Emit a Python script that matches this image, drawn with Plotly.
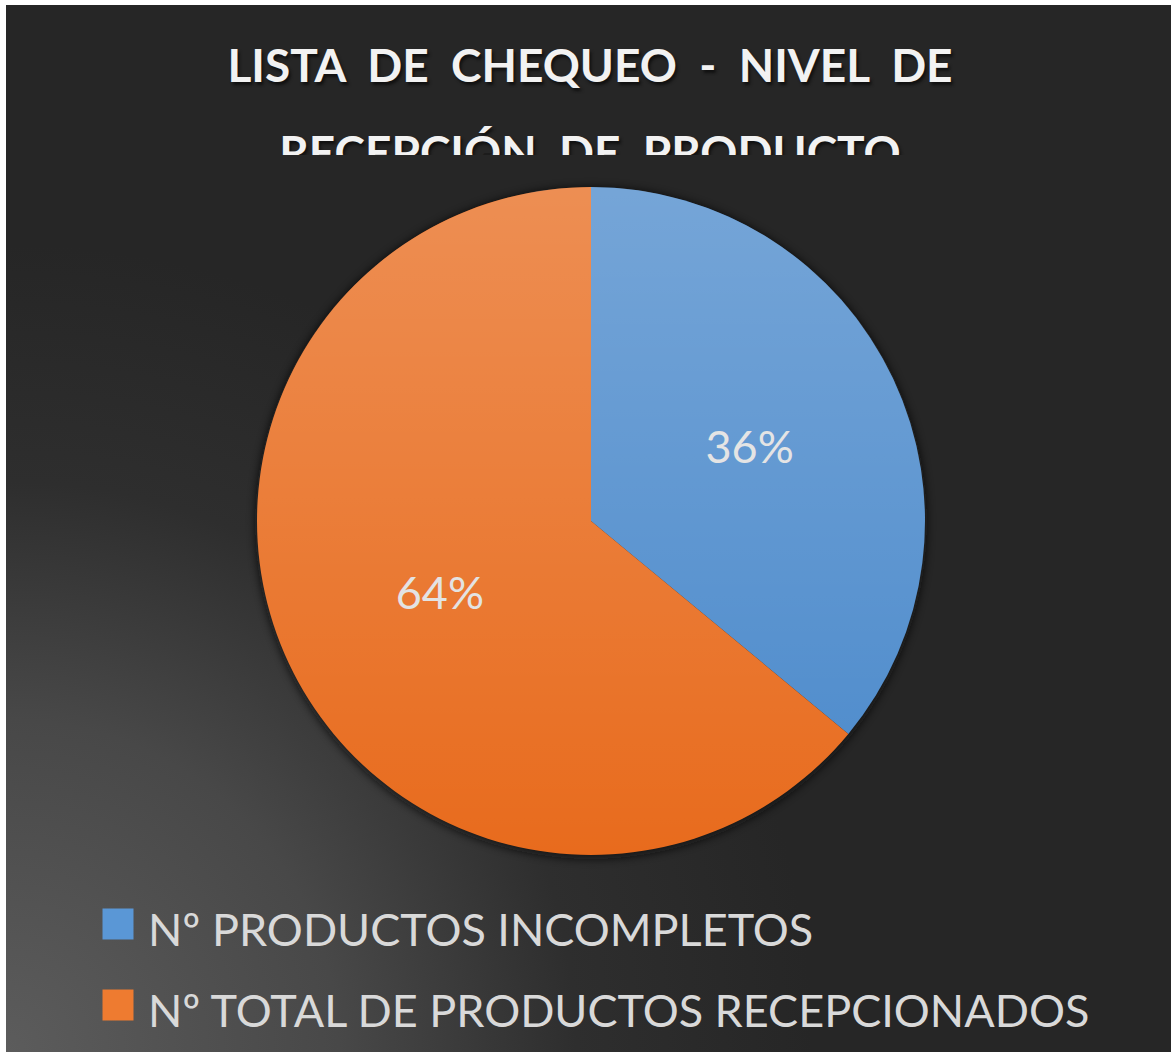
import base64
import plotly.graph_objects as go

# data
labels = ["Nº PRODUCTOS INCOMPLETOS", "Nº TOTAL DE PRODUCTOS RECEPCIONADOS"]
values = [36, 64]
colors = ["#4a89cb", "#e86b1d"]
legend_colors = ["#5a97d6", "#ee7b30"]
title_lines = ["LISTA  DE  CHEQUEO  -  NIVEL  DE", "RECEPCIÓN  DE  PRODUCTO"]

W, H = 1171, 1052

# dark background with a light corner at bottom-left, plus soft pie shadow
bg_svg = """<svg xmlns='http://www.w3.org/2000/svg' width='1165' height='1047' viewBox='0 0 1165 1047' preserveAspectRatio='none'>
<defs>
<radialGradient id='g' cx='0' cy='1047' r='950' gradientUnits='userSpaceOnUse'>
<stop offset='0' stop-color='#5c5c5c'/>
<stop offset='0.35' stop-color='#484848'/>
<stop offset='0.6' stop-color='#2e2e2e'/>
<stop offset='0.85' stop-color='#262626'/>
<stop offset='1' stop-color='#262626'/>
</radialGradient>
<filter id='b' x='-20%' y='-20%' width='140%' height='140%'><feGaussianBlur stdDeviation='4'/></filter>
</defs>
<rect width='1165' height='1047' fill='url(#g)'/>
<circle cx='585' cy='518' r='336' fill='#0a0a0a' opacity='0.7' filter='url(#b)'/>
</svg>"""
bg_src = "data:image/svg+xml;base64," + base64.b64encode(bg_svg.encode()).decode()

# vertical shading over the pie (lighter at top)
shade_svg = """<svg xmlns='http://www.w3.org/2000/svg' width='100' height='100' viewBox='0 0 100 100' preserveAspectRatio='none'>
<defs><linearGradient id='s' x1='0' y1='0' x2='0' y2='1'>
<stop offset='0' stop-color='#ffffff' stop-opacity='0.24'/>
<stop offset='1' stop-color='#ffffff' stop-opacity='0'/>
</linearGradient></defs>
<circle cx='50' cy='50' r='50' fill='url(#s)'/>
</svg>"""
shade_src = "data:image/svg+xml;base64," + base64.b64encode(shade_svg.encode()).decode()

pie_x = [257 / W, 925 / W]
pie_y = [1 - 855 / H, 1 - 187 / H]

fig = go.Figure()

fig.add_trace(go.Pie(
    labels=labels,
    values=values,
    sort=False,
    direction="clockwise",
    rotation=0,
    marker=dict(colors=colors, line=dict(width=0)),
    textinfo="percent",
    texttemplate="%{percent:.0%}",
    textposition="inside",
    insidetextorientation="horizontal",
    textfont=dict(family="Lato", size=45, color="#e0e0e0"),
    domain=dict(x=pie_x, y=pie_y),
    showlegend=False,
    hoverinfo="label+percent",
))

# title: clipped by its own (hidden) axes box, like the original
title_y = [-70, -157]
fig.add_trace(go.Scatter(
    x=[0], y=[title_y[1] - 27], mode="text", text=[title_lines[1]],
    textfont=dict(family="Lato", size=46, color="#1c1c1c", weight="bold"),
    xaxis="x2", yaxis="y2", cliponaxis=True, showlegend=False, hoverinfo="skip",
))
fig.add_trace(go.Scatter(
    x=[0, 0], y=title_y, mode="text", text=title_lines,
    textfont=dict(family="Lato", size=46, color="#f2f2f2", weight="bold",
                  shadow="2px 3px 3px #111111"),
    xaxis="x2", yaxis="y2", cliponaxis=True, showlegend=False, hoverinfo="skip",
))

# legend drawn as square markers plus text
idx = list(range(len(labels)))
fig.add_trace(go.Scatter(
    x=[0] * len(labels), y=idx, mode="markers",
    marker=dict(symbol="square", size=31, color=legend_colors),
    xaxis="x3", yaxis="y3", cliponaxis=False, showlegend=False, hoverinfo="skip",
))
fig.add_trace(go.Scatter(
    x=[30] * len(labels), y=[i + 0.13 for i in idx], mode="text",
    text=labels, textposition="middle right",
    textfont=dict(family="Lato", size=45, color="#d9d9d9"),
    xaxis="x3", yaxis="y3", cliponaxis=False, showlegend=False, hoverinfo="skip",
))

hidden = dict(visible=False, showgrid=False, zeroline=False, fixedrange=True)
fig.update_layout(
    width=W, height=H,
    margin=dict(l=0, r=0, t=0, b=0),
    paper_bgcolor="#ffffff",
    plot_bgcolor="rgba(0,0,0,0)",
    xaxis2=dict(domain=[0, 1], range=[-590, 581], **hidden),
    yaxis2=dict(domain=[1 - 155 / H, 1], range=[-155, 0], **hidden),
    xaxis3=dict(domain=[0, 1], range=[-118, 1053], anchor="y3", **hidden),
    yaxis3=dict(domain=[0, 172 / H], range=[1.580, -0.543], anchor="x3", **hidden),
    images=[
        dict(source=bg_src, xref="paper", yref="paper", x=6 / W, y=1 - 5 / H,
             sizex=1 - 6 / W, sizey=1 - 5 / H, sizing="stretch",
             xanchor="left", yanchor="top", layer="below"),
        dict(source=shade_src, xref="paper", yref="paper", x=pie_x[0], y=pie_y[1],
             sizex=pie_x[1] - pie_x[0], sizey=pie_y[1] - pie_y[0], sizing="stretch",
             xanchor="left", yanchor="top", layer="above"),
    ],
)

fig.write_html("out.html", config={"displayModeBar": False},
               post_script="document.body.style.margin='0';")
